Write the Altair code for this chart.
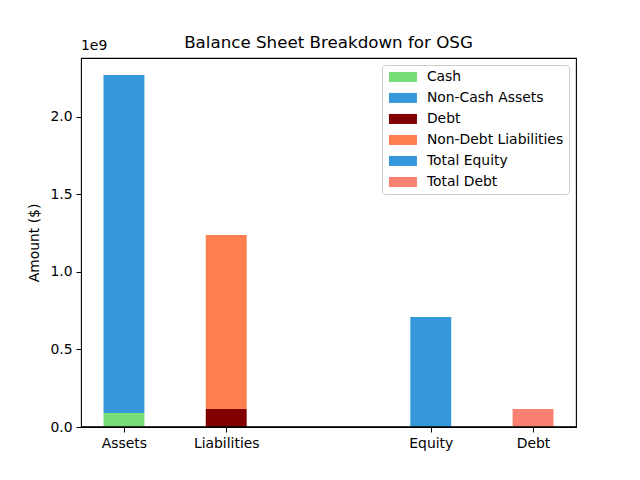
import altair as alt
import pandas as pd

FONT = "DejaVu Sans"

categories = ["Assets", "Liabilities", "Equity", "Debt"]
category_pos = [0, 1, 3, 4]

series = ["Cash", "Non-Cash Assets", "Debt", "Non-Debt Liabilities", "Total Equity", "Total Debt"]
series_category = ["Assets", "Assets", "Liabilities", "Liabilities", "Equity", "Debt"]
series_values = [0.09e9, 2.18e9, 0.116e9, 1.123e9, 0.71e9, 0.116e9]
series_colors = ["#77DD77", "#3498DB", "#800000", "#FF7F50", "#3498DB", "#FA8072"]

pos_map = dict(zip(categories, category_pos))
df = pd.DataFrame({"series": series, "category": series_category, "value": series_values})
df["pos"] = df["category"].map(pos_map)
df["top"] = df.groupby("category")["value"].cumsum()
df["bottom"] = df["top"] - df["value"]

label_expr = " : ".join(
    f"datum.value == {p} ? '{c}'" for c, p in zip(categories, category_pos)
) + " : ''"

bars = (
    alt.Chart(df)
    .transform_calculate(x0="datum.pos - 0.2", x1="datum.pos + 0.2")
    .mark_bar()
    .encode(
        x=alt.X(
            "x0:Q",
            scale=alt.Scale(domain=[-0.42, 4.42], nice=False, zero=False),
            axis=alt.Axis(
                title=None, values=category_pos, labelExpr=label_expr, grid=False,
                domain=False, tickColor="black", tickSize=5, labelPadding=4,
                labelFont=FONT, labelFontSize=13.9, labelColor="black",
            ),
        ),
        x2="x1:Q",
        y=alt.Y(
            "top:Q",
            scale=alt.Scale(domain=[0, 2.38e9], nice=False),
            axis=alt.Axis(
                title="Amount ($)", values=[0, 0.5e9, 1.0e9, 1.5e9, 2.0e9],
                labelExpr="format(datum.value / 1e9, '.1f')", grid=False,
                domain=False, tickColor="black", tickSize=5, labelPadding=4,
                labelFont=FONT, labelFontSize=13.9, labelColor="black",
                titleFont=FONT, titleFontSize=13.9, titleFontWeight="normal",
                titleColor="black", titlePadding=8,
            ),
        ),
        y2="bottom:Q",
        color=alt.Color(
            "series:N",
            scale=alt.Scale(domain=series, range=series_colors),
            legend=alt.Legend(
                title=None, orient="top-right", offset=7, padding=5,
                fillColor="white", strokeColor="#cccccc", cornerRadius=3,
                symbolType="M-1,-1H4.6V1H-1Z", symbolSize=100, symbolStrokeWidth=0,
                symbolOpacity=1, labelFont=FONT, labelFontSize=13.9, labelColor="black",
                rowPadding=6, labelOffset=26,
            ),
        ),
    )
)

zero_line = (
    alt.Chart(pd.DataFrame({"y": [0]}))
    .mark_rule(color="black", strokeWidth=1.6)
    .encode(y="y:Q")
)

offset_text = (
    alt.Chart(pd.DataFrame({"t": ["1e9"]}))
    .mark_text(align="left", baseline="bottom", font=FONT, fontSize=13.9, color="black")
    .encode(text="t:N", x=alt.value(0), y=alt.value(-5))
)

chart = (
    alt.layer(bars, zero_line, offset_text)
    .properties(
        width=495,
        height=369,
        title=alt.TitleParams(
            "Balance Sheet Breakdown for OSG", font=FONT, fontSize=16.7,
            fontWeight="normal", color="black", offset=8, dy=21,
        ),
        autosize=alt.AutoSizeParams(type="none"),
        padding={"left": 73, "top": 50, "right": 56, "bottom": 45},
    )
    .configure_view(stroke="black", strokeWidth=1.1)
)

chart.save("out.html", embed_options={"renderer": "svg", "actions": False})
